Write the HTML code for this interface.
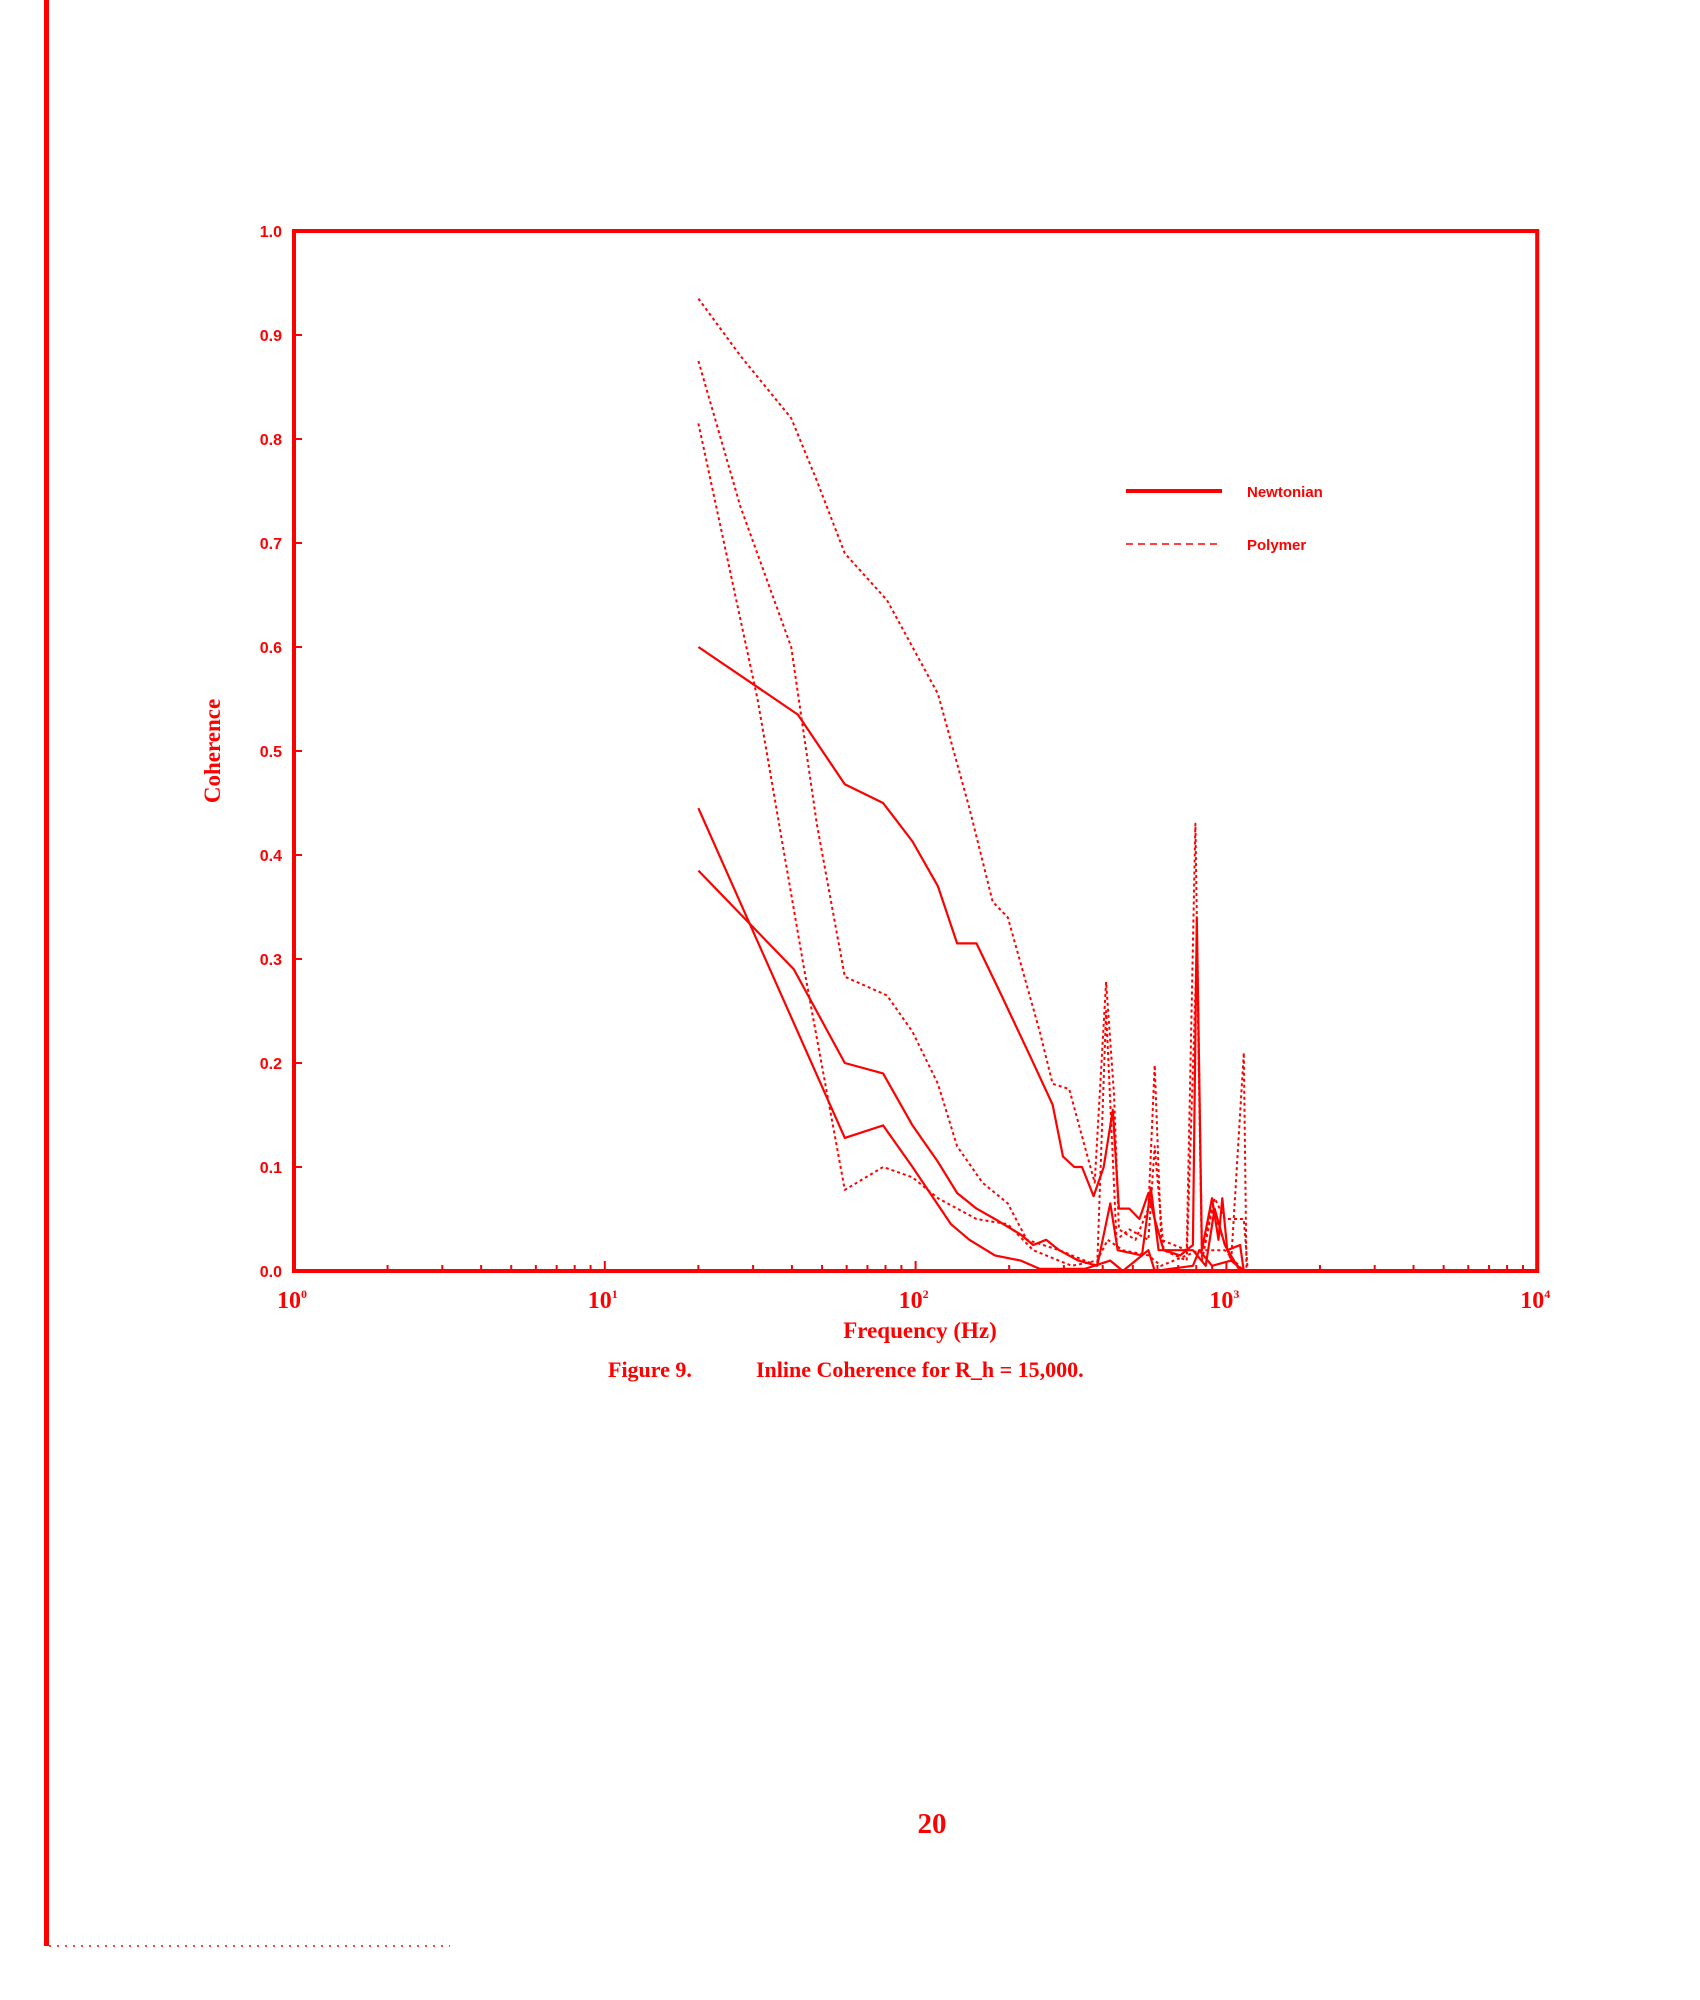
<!DOCTYPE html>
<html><head><meta charset="utf-8"><style>
html,body{margin:0;padding:0;background:#fff}
svg{display:block}
text{fill:#f00}
</style></head><body>
<svg width="1700" height="2000" viewBox="0 0 1700 2000" xmlns="http://www.w3.org/2000/svg">
<rect x="44" y="0" width="5" height="1946" fill="#f00"/>
<line x1="49" y1="1946" x2="450" y2="1946" stroke="#f00" stroke-width="1.5" stroke-dasharray="2,6"/>
<g id="plot"></g>
<text x="220" y="751" transform="rotate(-90 220 751)" text-anchor="middle" font-family="Liberation Serif, serif" font-size="23" font-weight="bold">Coherence</text>
<text x="920" y="1338" text-anchor="middle" font-family="Liberation Serif, serif" font-size="23" font-weight="bold">Frequency (Hz)</text>
<text x="608" y="1377" font-family="Liberation Serif, serif" font-size="22" font-weight="bold">Figure 9.<tspan x="756">Inline Coherence for R_h = 15,000.</tspan></text>
<text x="932" y="1833" text-anchor="middle" font-family="Liberation Serif, serif" font-size="29" font-weight="bold">20</text>
</svg>
<script>
const n1F=[20,41.8,59.2,78.6,97.7,118,136,157,189,235,276,298,324,343,374,403,431,451,487,525,561,588,628,710,780,803,834,899,943,970,1007,1107,1138];
const n1V=[.60,.535,.468,.45,.413,.37,.315,.315,.265,.205,.16,.11,.10,.10,.072,.10,.155,.06,.06,.05,.075,.05,.02,.015,.025,.34,.02,.07,.03,.07,.02,.025,0];
const n2F=[20,40.6,59.2,78.6,97.7,118,136,157,180,218,239,263,290,334,384,423,447,535,571,605,780,858,916,988,1107];
const n2V=[.385,.29,.2,.19,.14,.105,.075,.06,.05,.035,.025,.03,.02,.01,.005,.065,.02,.015,.08,.02,.02,.005,.06,.025,0];
const n3F=[20,59.2,78.6,97.7,130,149,180,218,251,350,423,464,561,588,780,818,899,1036,1138];
const n3V=[.445,.128,.14,.10,.045,.03,.015,.01,.002,.002,.01,0,.02,0,.005,.02,.005,.01,0];
const p1F=[20,27.3,39.8,48.1,59.2,80.9,97.7,118,149,177,198,251,276,312,350,377,410,435,451,510,561,588,617,745,795,834,899,1036,1138,1161];
const p1V=[.935,.88,.82,.76,.69,.645,.6,.555,.445,.355,.34,.23,.18,.175,.12,.085,.278,.17,.04,.03,.06,.198,.03,.02,.43,.02,.06,.01,.21,0];
const p2F=[20,27.3,39.8,48.1,59.2,80.9,97.7,118,136,164,198,228,290,350,384,410,443,487,561,588,628,745,803,834,916,988,1138,1172];
const p2V=[.875,.735,.6,.43,.283,.265,.23,.18,.12,.085,.065,.03,.02,.01,.005,.25,.03,.04,.03,.12,.02,.01,.31,.01,.07,.05,.05,0];
const p3F=[20,31,43.8,59.2,78.6,97.7,118,157,198,239,318,384,415,464,561,617,818,988,1138];
const p3V=[.815,.55,.29,.078,.1,.09,.07,.05,.045,.02,.005,.01,.03,.02,.015,.005,.02,.02,0];
const yTicks=[0,.1,.2,.3,.4,.5,.6,.7,.8,.9,1.0];
const yTickLabels=["0.0","0.1","0.2","0.3","0.4","0.5","0.6","0.7","0.8","0.9","1.0"];
const xDecades=[0,1,2,3,4];
const NS="http://www.w3.org/2000/svg";
const X0=294,DEC=310.8,Y0=1271,YH=1040;
const xs=f=>X0+Math.log10(f)*DEC;
const ys=v=>Y0-v*YH;
const g=document.getElementById('plot');
function mk(t,a,p){const e=document.createElementNS(NS,t);for(const k in a)e.setAttribute(k,a[k]);(p||g).appendChild(e);return e;}
const frame=mk('rect',{x:X0,y:ys(1),width:4*DEC,height:YH,fill:'none',stroke:'#f00','stroke-width':4});


yTicks.forEach((v,i)=>{
 const t=mk('line',{x1:X0,x2:X0+8,y1:ys(v),y2:ys(v),stroke:'#f00','stroke-width':2});
 
 
 const l=mk('text',{x:X0-12,y:ys(v)+6,'text-anchor':'end','font-family':'Liberation Sans, sans-serif','font-size':16,'font-weight':'bold'});
 l.textContent=yTickLabels[i];
 
 
});
xDecades.forEach(d=>{
 const l=mk('text',{x:xs(Math.pow(10,d))-2,y:1308,'text-anchor':'middle','font-family':'Liberation Serif, serif','font-size':24,'font-weight':'bold'});
 l.innerHTML='10<tspan font-size="12" dy="-10">'+d+'</tspan>';
 
 
 if(d<4){for(let m=1;m<10;m++){const x=xs(m*Math.pow(10,d));
  const t=mk('line',{x1:x,x2:x,y1:Y0,y2:Y0-(m==1?10:6),stroke:'#f00','stroke-width':2});
  
  }}
});
function series(F,V,dash,name){
 const pts=F.map((f,i)=>xs(f).toFixed(1)+','+ys(V[i]).toFixed(1)).join(' ');
 const a={points:pts,fill:'none',stroke:'#f00','stroke-width':dash?2:2.2,'stroke-linejoin':'round'};
 if(dash)a['stroke-dasharray']='3,3';
 const p=mk('polyline',a);
 
 
}
series(n1F,n1V,false,'newtonian-series-1');
series(n2F,n2V,false,'newtonian-series-2');
series(n3F,n3V,false,'newtonian-series-3');
series(p1F,p1V,true,'polymer-series-1');
series(p2F,p2V,true,'polymer-series-2');
series(p3F,p3V,true,'polymer-series-3');
const lg=mk('g',{});


const l1=mk('line',{x1:1126,x2:1222,y1:491,y2:491,stroke:'#f00','stroke-width':4},lg);


const t1=mk('text',{x:1247,y:497,'font-family':'Liberation Sans, sans-serif','font-size':15,'font-weight':'bold'},lg);
t1.textContent='Newtonian';


const l2=mk('line',{x1:1126,x2:1222,y1:544,y2:544,stroke:'#f00','stroke-width':1.5,'stroke-dasharray':'7,5'},lg);


const t2=mk('text',{x:1247,y:550,'font-family':'Liberation Sans, sans-serif','font-size':15,'font-weight':'bold'},lg);
t2.textContent='Polymer';


</script>
</body></html>
